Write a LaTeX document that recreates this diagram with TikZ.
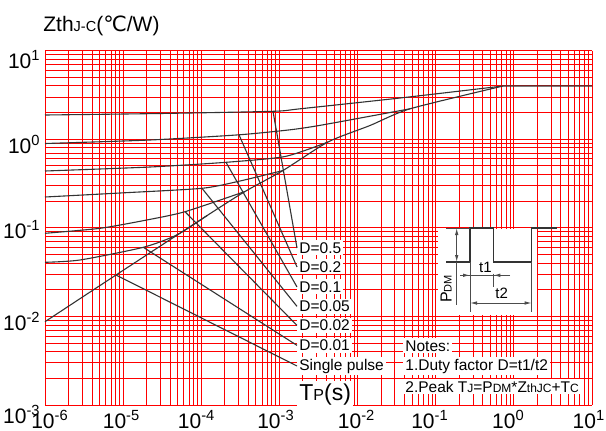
\documentclass[tikz,border=0pt]{standalone}
\usepackage{fontspec}
\setmainfont{Liberation Sans}
\newfontfamily\dejavu{DejaVu Sans}
\usetikzlibrary{arrows.meta}
\newcommand{\lowtxt}[2]{{\fontsize{#1}{#1}\selectfont #2}}

\begin{document}
\begin{tikzpicture}[x=0.5pt,y=-0.5pt,
  redgrid/.style={red,line width=0.45pt},
  zcurve/.style={black!80,line width=0.55pt},
  dimline/.style={black!70,line width=0.5pt},
  lbl/.style={fill=white,inner sep=1pt,anchor=base west,font=\fontsize{7.75}{9}\selectfont},
  ticklbl/.style={inner sep=0pt,font=\fontsize{10.5}{12}\selectfont},
  >={Latex[length=3.5pt,width=1.8pt]}]
\useasboundingbox (0,0) rectangle (606,430);

\foreach \d in {0,...,6}{
  \foreach \k in {1,...,9}{
    \pgfmathsetmacro\gx{45+78.14*(\d+log10(\k))}
    \draw[redgrid] (\gx,50.7) -- (\gx,405);
  }
}
\draw[redgrid] (592,50.7) -- (592,405);
\foreach \d in {0,...,3}{
  \foreach \k in {1,...,9}{
    \pgfmathsetmacro\gy{405-88.58*(\d+log10(\k))}
    \draw[redgrid] (45,\gy) -- (592,\gy);
  }
}
\draw[redgrid] (45,50.7) -- (592,50.7);

\draw[zcurve] plot[smooth,tension=0.4] coordinates {(45,321.7) (116,275) (207,215.6) (245,191.5) (283,170.5) (328,142) (370,125.5) (410,108.8) (503,86)} -- (592,86);
\draw[zcurve] plot[smooth,tension=0.4] coordinates {(45,262.3) (80,260) (143.3,247.3) (176.7,235) (207,215.6)};
\draw[zcurve] plot[smooth,tension=0.4] coordinates {(45,233.3) (100,228.3) (146.7,220) (185,211.7) (245,191.5)};
\draw[zcurve] plot[smooth,tension=0.4] coordinates {(45,197) (120,193) (202,188.3) (240,181) (283,170.5)};
\draw[zcurve] plot[smooth,tension=0.4] coordinates {(45,171) (150,167) (226,162.3) (285,156.5) (328,142)};
\draw[zcurve] plot[smooth,tension=0.4] coordinates {(45,143.5) (150,140) (239,134.8) (290,129.8) (322,125) (410,108.8)};
\draw[zcurve] plot[smooth,tension=0.4] coordinates {(45,115) (160,113.5) (273,111.3) (300,108.8) (400,98) (503,86)};

\coordinate (k50) at (273,111.3);
\coordinate (k20) at (239,134.8);
\coordinate (k10) at (226,162.3);
\coordinate (k05) at (202,188.3);
\coordinate (k02) at (185,211.7);
\coordinate (k01) at (143.3,247.3);
\coordinate (ksp) at (116,275);

\node[lbl] (l50) at (297,253.3) {D=0.5};
\node[lbl] (l20) at (297,272.3) {D=0.2};
\node[lbl] (l10) at (297,292.3) {D=0.1};
\node[lbl] (l05) at (297,311.7) {D=0.05};
\node[lbl] (l02) at (297,330.7) {D=0.02};
\node[lbl] (l01) at (297,350.7) {D=0.01};
\node[lbl] (lsp) at (297,370) {Single pulse};

\draw[zcurve] (k50) -- (l50.west);
\draw[zcurve] (k20) -- (l20.west);
\draw[zcurve] (k10) -- (l10.west);
\draw[zcurve] (k05) -- (l05.west);
\draw[zcurve] (k02) -- (l02.west);
\draw[zcurve] (k01) -- (l01.west);
\draw[zcurve] (ksp) -- (lsp.west);

\node[lbl] (tp) at (297,400) {\fontsize{11.5}{12}\selectfont T\lowtxt{8}{P}(s)};
\node[lbl] (n0) at (403,351) {Notes:};
\node[lbl] (n1) at (403,370) {1.Duty factor D=t1/t2};
\node[lbl] (n2) at (403,392) {2.Peak T\lowtxt{6}{J}=P\lowtxt{6}{DM}*Z\lowtxt{6}{thJC}+T\lowtxt{6}{C}};

\fill[white] (438,229) rectangle (537,315);
\draw[zcurve] (446,262) -- (470,262) -- (470,228) -- (493.3,228) -- (493.3,262) -- (531.7,262) -- (531.7,228) -- (556.7,228);
\draw[dimline] (446,228) -- (470,228);
\draw[dimline,<->] (456.7,228) -- (456.7,262);
\draw[dimline] (456.7,262) -- (456.7,305);
\draw[dimline] (470,262) -- (470,312);
\draw[dimline] (531.7,262) -- (531.7,312);
\draw[dimline] (493.3,273.7) -- (493.3,287);
\draw[dimline] (460,275.3) -- (510,275.3);
\draw[dimline,->] (460,275.3) -- (470,275.3);
\draw[dimline,->] (510,275.3) -- (493.3,275.3);
\draw[dimline,<->] (470,303) -- (531.7,303);
\node[inner sep=0pt,font=\fontsize{7.5}{8}\selectfont] (t1) at (485.5,267) {t1};
\node[inner sep=0pt,font=\fontsize{7.5}{8}\selectfont] (t2) at (501.7,293) {t2};
\node[inner sep=0pt,rotate=90,font=\fontsize{8}{9}\selectfont] (pdm) at (446,289) {P\lowtxt{5.5}{DM}};

\node[ticklbl,anchor=base west] (ttl) at (43,31.7) {Zth\lowtxt{7.25}{J-C}({\dejavu ℃}/W)};
\foreach \e/\yy [count=\i] in {1/68.3,0/153.3,-1/238.3,-2/330,-3/423.3}
  \node[ticklbl,anchor=base east] (yt\i) at (41,\yy) {10\textsuperscript{\e}};
\foreach \e/\xx [count=\i] in {-6/50,-5/121.6,-4/196.7,-3/276,-2/356.7,-1/430,0/508.5,1/589}
  \node[ticklbl,anchor=base] (xt\i) at (\xx,428) {10\textsuperscript{\e}};
\end{tikzpicture}
\end{document}
